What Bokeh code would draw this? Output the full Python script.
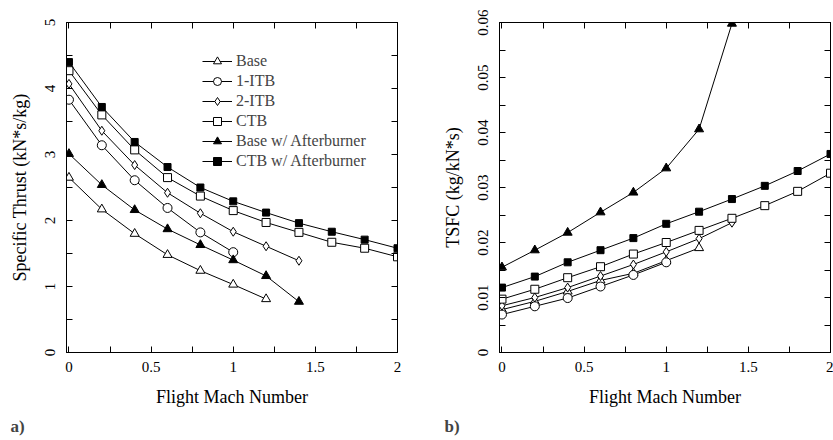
from bokeh.plotting import figure
from bokeh.layouts import row
from bokeh.models import (Range1d, FixedTicker, LinearAxis, Legend, LegendItem,
                          Title, CustomJSTickFormatter)
from bokeh.embed import file_html
from bokeh.resources import INLINE

FONT = "Liberation Serif"

# ---------------- data: a) Specific Thrust (kN*s/kg) ----------------
mach_base = [0, 0.2, 0.4, 0.6, 0.8, 1.0, 1.2]
mach_1itb = [0, 0.2, 0.4, 0.6, 0.8, 1.0]
mach_2itb = [0, 0.2, 0.4, 0.6, 0.8, 1.0, 1.2, 1.4]
mach_ctb = [0, 0.2, 0.4, 0.6, 0.8, 1.0, 1.2, 1.4, 1.6, 1.8, 2.0]
mach_base_ab = [0, 0.2, 0.4, 0.6, 0.8, 1.0, 1.2, 1.4]
mach_ctb_ab = [0, 0.2, 0.4, 0.6, 0.8, 1.0, 1.2, 1.4, 1.6, 1.8, 2.0]

st_base = [2.65, 2.17, 1.80, 1.48, 1.24, 1.03, 0.81]
st_1itb = [3.83, 3.14, 2.61, 2.19, 1.82, 1.52]
st_2itb = [4.07, 3.36, 2.84, 2.42, 2.11, 1.83, 1.61, 1.39]
st_ctb = [4.27, 3.60, 3.07, 2.65, 2.37, 2.15, 1.97, 1.82, 1.67, 1.58, 1.45]
st_base_ab = [3.01, 2.54, 2.16, 1.87, 1.63, 1.40, 1.16, 0.77]
st_ctb_ab = [4.40, 3.72, 3.19, 2.81, 2.50, 2.29, 2.12, 1.96, 1.83, 1.71, 1.58]

# ---------------- data: b) TSFC (kg/kN*s) ----------------
tsfc_base = [0.0078, 0.0093, 0.0111, 0.0131, 0.0144, 0.0167, 0.0190]
tsfc_1itb = [0.0069, 0.0084, 0.0099, 0.0120, 0.0141, 0.0164]
tsfc_2itb = [0.0085, 0.0100, 0.0118, 0.0139, 0.0160, 0.0183, 0.0207, 0.0236]
tsfc_ctb = [0.0097, 0.0115, 0.0136, 0.0156, 0.0179, 0.0200, 0.0222, 0.0244, 0.0267, 0.0293, 0.0326]
tsfc_base_ab = [0.0155, 0.0186, 0.0218, 0.0255, 0.0291, 0.0335, 0.0406, 0.0598]
tsfc_ctb_ab = [0.0118, 0.0138, 0.0164, 0.0186, 0.0208, 0.0234, 0.0256, 0.0279, 0.0303, 0.0330, 0.0361]

labels = ["Base", "1-ITB", "2-ITB", "CTB", "Base w/ Afterburner", "CTB w/ Afterburner"]

# ticks
x_ticks = [0, 0.5, 1, 1.5, 2]
x_minor = [0.25, 0.75, 1.25, 1.75]
y1_ticks = [0, 1, 2, 3, 4, 5]
y1_minor = [0.5, 1.5, 2.5, 3.5, 4.5]
y2_ticks = [0, 0.01, 0.02, 0.03, 0.04, 0.05, 0.06]
y2_minor = [0.005, 0.015, 0.025, 0.035, 0.045, 0.055]

# marker styles: (marker, size, fill)
styles = [("triangle", 9, "white"), ("circle", 9, "white"), ("diamond", 9, "white"),
          ("square", 8, "white"), ("triangle", 9, "black"), ("square", 7, "black")]


def style_axis(ax, ticks, minor, labels_on=True, vertical=False):
    ax.ticker = FixedTicker(ticks=ticks, minor_ticks=minor)
    ax.major_tick_in = 6
    ax.major_tick_out = 0
    ax.minor_tick_in = 6
    ax.minor_tick_out = 0
    ax.axis_line_color = "black"
    ax.major_tick_line_color = "black"
    ax.minor_tick_line_color = "black"
    ax.major_label_text_font = FONT
    ax.major_label_text_color = "black"
    ax.major_label_text_font_size = "15px"
    ax.axis_label_text_font = FONT
    ax.axis_label_text_font_style = "normal"
    ax.axis_label_text_font_size = "18px"
    ax.axis_label_text_color = "black"
    if labels_on:
        ax.formatter = CustomJSTickFormatter(code="return tick.toString();")
    else:
        ax.formatter = CustomJSTickFormatter(code="return '';")
        ax.major_label_standoff = 0
    if vertical:
        ax.major_label_orientation = "vertical"


def make_fig(width, y_range, yticks, yminor, ylabel, border_left, border_right, tag, tag_offset):
    p = figure(width=width, height=440, x_range=Range1d(-0.015, 2.0), y_range=y_range,
               output_backend="svg", toolbar_location=None,
               min_border_left=border_left, min_border_right=border_right,
               min_border_top=22, min_border_bottom=87)
    p.grid.visible = False
    p.outline_line_color = "black"
    p.background_fill_color = "white"
    p.border_fill_color = "white"
    style_axis(p.xaxis[0], x_ticks, x_minor)
    p.xaxis[0].axis_label = "Flight Mach Number"
    p.xaxis[0].major_label_standoff = 9
    p.xaxis[0].axis_label_standoff = 12
    style_axis(p.yaxis[0], yticks, yminor, vertical=True)
    p.yaxis[0].axis_label = ylabel
    p.yaxis[0].major_label_standoff = 12
    p.yaxis[0].axis_label_standoff = 12
    top = LinearAxis()
    style_axis(top, x_ticks, x_minor, labels_on=False)
    p.add_layout(top, "above")
    right = LinearAxis()
    style_axis(right, yticks, yminor, labels_on=False)
    p.add_layout(right, "right")
    p.add_layout(Title(text=tag, align="left", text_font=FONT, text_font_size="17px",
                       text_font_style="bold", offset=tag_offset), "below")
    return p


def draw(p, xs, ys, style):
    marker, size, fill = style
    lr = p.line(xs, ys, line_color="black", line_width=1)
    sr = p.scatter(xs, ys, marker=marker, size=size, fill_color=fill,
                   line_color="black", line_width=1)
    return [lr, sr]


p1 = make_fig(416, Range1d(0, 5), y1_ticks, y1_minor, "Specific Thrust (kN*s/kg)", 66, 19, "a)", -56)
p2 = make_fig(417, Range1d(0, 0.06), y2_ticks, y2_minor, "TSFC (kg/kN*s)", 83, 3, "b)", -55)

xs_all = [mach_base, mach_1itb, mach_2itb, mach_ctb, mach_base_ab, mach_ctb_ab]
st_all = [st_base, st_1itb, st_2itb, st_ctb, st_base_ab, st_ctb_ab]
ts_all = [tsfc_base, tsfc_1itb, tsfc_2itb, tsfc_ctb, tsfc_base_ab, tsfc_ctb_ab]

items = []
for xs, ys, st, lab in zip(xs_all, st_all, styles, labels):
    rs = draw(p1, xs, ys, st)
    items.append(LegendItem(label=lab, renderers=rs))
for xs, ys, st in zip(xs_all, ts_all, styles):
    draw(p2, xs, ys, st)

legend = Legend(items=items, location=(136, 181), padding=0, spacing=0, margin=0,
                label_height=20, glyph_height=20, glyph_width=30, label_standoff=4,
                label_text_font=FONT, label_text_font_size="16px",
                background_fill_alpha=0, border_line_alpha=0)
p1.add_layout(legend, "center")

layout = row(p1, p2)
open("out.html", "w").write(file_html(layout, INLINE))
